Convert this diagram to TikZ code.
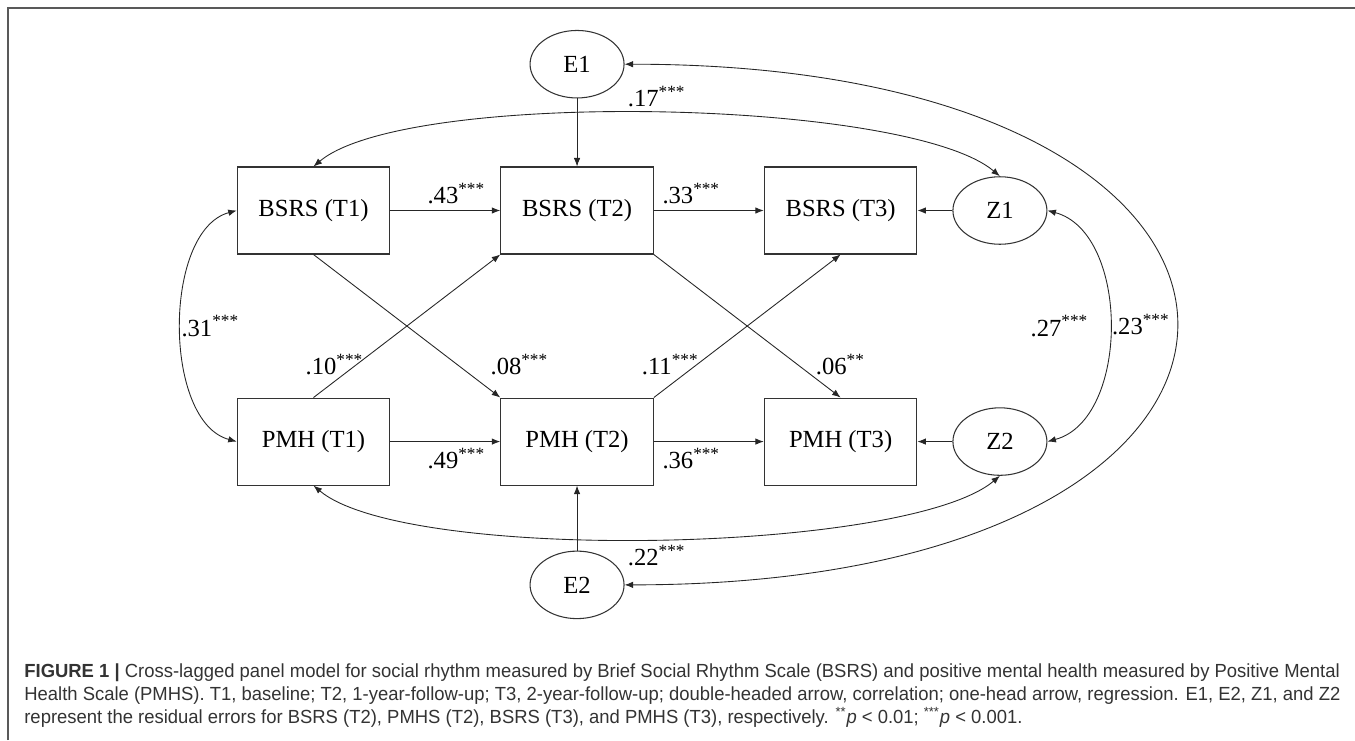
\documentclass[tikz,border=0pt]{standalone}
\usepackage{fontspec}
\setmainfont{Liberation Serif}
\newfontfamily\capfont{Liberation Sans}[FakeStretch=0.972]
\usetikzlibrary{positioning}
\usetikzlibrary{arrows.meta}
\usetikzlibrary{shapes.geometric}

\begin{document}
\begin{tikzpicture}[
 node distance=2.2cm,
 measure/.style={rectangle, draw=black!80, line width=0.6pt, minimum width=3.05cm, minimum height=1.74cm, inner sep=0pt, font=\fontsize{14}{16}\selectfont},
 residual/.style={ellipse, draw=black!80, line width=0.6pt, minimum width=1.88cm, minimum height=1.35cm, inner sep=0pt, font=\fontsize{14}{16}\selectfont},
 arrow/.style={-{Latex[length=1.7mm, width=1.3mm]}, line width=0.5pt, draw=black!85},
 corr/.style={{Latex[length=1.7mm, width=1.3mm]}-{Latex[length=1.7mm, width=1.3mm]}, line width=0.5pt, draw=black!85},
 coef/.style={font=\fontsize{14}{16}\selectfont},
 caption/.style={align=left, inner sep=0pt, text=black!80, font=\capfont\fontsize{10.8}{13.04}\selectfont}
]
\useasboundingbox (0,0) rectangle (27.1,-14.8);

% Frame
\draw[black!65, line width=1pt] (0.16,-14.8) -- (0.16,-0.16) -- (27.1,-0.16);

% BSRS boxes
\node[measure] (BT1) at (6.27,-4.21) {BSRS (T1)};
\node[measure, right=of BT1] (BT2) {BSRS (T2)};
\node[measure, right=of BT2] (BT3) {BSRS (T3)};
\node[residual, right=0.7cm of BT3] (Z1) {Z1};
\node[residual, above=1.36cm of BT2] (E1) {E1};

% PMH boxes
\node[measure, below=2.86cm of BT1] (PT1) {PMH (T1)};
\node[measure, right=of PT1] (PT2) {PMH (T2)};
\node[measure, right=of PT2] (PT3) {PMH (T3)};
\node[residual, right=0.7cm of PT3] (Z2) {Z2};
\node[residual, below=1.3cm of PT2] (E2) {E2};

% Residual errors
\draw[arrow] (E1) -- (BT2);
\draw[arrow] (E2) -- (PT2);
\draw[arrow] (Z1) -- (BT3);
\draw[arrow] (Z2) -- (PT3);

% Autoregressive paths
\draw[arrow] (BT1) -- (BT2) node[pos=0.6, above, coef] {.43\textsuperscript{***}};
\draw[arrow] (BT2) -- (BT3) node[pos=0.34, above, coef] {.33\textsuperscript{***}};
\draw[arrow] (PT1) -- (PT2) node[pos=0.6, below, coef] {.49\textsuperscript{***}};
\draw[arrow] (PT2) -- (PT3) node[pos=0.34, below, coef] {.36\textsuperscript{***}};

% Cross-lagged paths
\draw[arrow] (BT1.south) -- (PT2.north west) node[pos=0.77, right=0.54cm, coef] {.08\textsuperscript{***}};
\draw[arrow] (PT1.north) -- (BT2.south west) node[pos=0.23, left=-0.26cm, coef] {.10\textsuperscript{***}};
\draw[arrow] (BT2.south east) -- (PT3.north) node[pos=0.77, right=0.24cm, coef] {.06\textsuperscript{**}};
\draw[arrow] (PT2.north east) -- (BT3.south) node[pos=0.23, left=-0.16cm, coef] {.11\textsuperscript{***}};

% Correlations
\draw[corr] (BT1.west) to[out=-165, in=165, looseness=0.85] node[midway, right=-0.12cm, coef] {.31\textsuperscript{***}} (PT1.west);
\draw[corr] (Z1.east) to[out=-15, in=15, looseness=0.95] node[midway, left=0.3cm, coef] {.27\textsuperscript{***}} (Z2.east);
\draw[corr] (BT1.north) to[out=40, in=140, looseness=0.45] node[midway, above, coef] {.17\textsuperscript{***}} (Z1.north);
\draw[corr] (PT1.south) to[out=-40, in=-140, looseness=0.45] node[midway, below, coef] {.22\textsuperscript{***}} (Z2.south);
\draw[corr] (E1.east) to[out=0, in=0, looseness=3.62] node[midway, left, coef] {.23\textsuperscript{***}} (E2.east);

% Caption
\node[caption, anchor=base west] (cap) at (0.48,-14.47) {\textbf{FIGURE 1 |} Cross-lagged panel model for social rhythm measured by Brief Social Rhythm Scale (BSRS) and positive mental health measured by Positive Mental\\
Health Scale (PMHS). T1, baseline; T2, 1-year-follow-up; T3, 2-year-follow-up; double-headed arrow, correlation; one-head arrow, regression. E1, E2, Z1, and Z2\\
represent the residual errors for BSRS (T2), PMHS (T2), BSRS (T3), and PMHS (T3), respectively. \textsuperscript{**}\textit{p} < 0.01; \textsuperscript{***}\textit{p} < 0.001.};
\end{tikzpicture}
\end{document}
